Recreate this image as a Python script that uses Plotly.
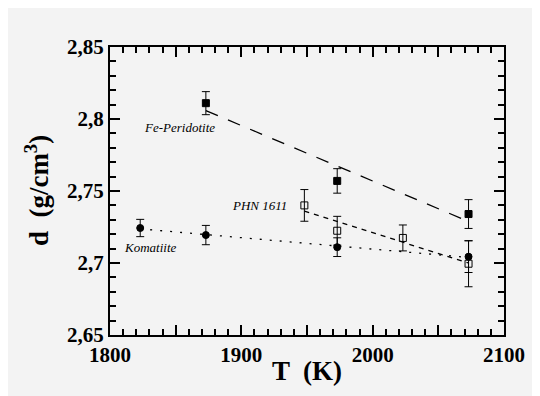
import numpy as np
import plotly.graph_objects as go

# ---- data ----
fe_T = [1873, 1973, 2073]
fe_d = [2.811, 2.757, 2.734]
fe_err = [0.008, 0.0085, 0.010]

phn_T = [1948, 1973, 2023, 2073]
phn_d = [2.740, 2.7224, 2.7174, 2.6995]
phn_err = [0.011, 0.010, 0.009, 0.016]

kom_T = [1823, 1873, 1973, 2073]
kom_d = [2.7243, 2.7194, 2.711, 2.7044]
kom_err = [0.006, 0.0067, 0.0065, 0.011]

x_range = [1800, 2100]
y_range = [2.65, 2.85]
x_title = "T  (K)"
y_title = "d  (g/cm<sup>3</sup>)"

FONT = "Liberation Serif"
BG = "#f3f3f3"

def fit_line(xs, ys):
    k, b = np.polyfit(xs, ys, 1)
    xx = np.array([min(xs), max(xs)], dtype=float)
    return xx, k * xx + b

fig = go.Figure()

def add_series(xs, ys, errs, symbol, dash):
    lx, ly = fit_line(xs, ys)
    fig.add_trace(go.Scatter(x=lx, y=ly, mode="lines",
                             line=dict(color="black", width=1.3, dash=dash),
                             showlegend=False, hoverinfo="skip"))
    fig.add_trace(go.Scatter(x=xs, y=ys, mode="markers",
                             marker=dict(symbol=symbol, size=7, color="black",
                                         line=dict(color="black", width=1)),
                             error_y=dict(type="data", array=errs, visible=True,
                                          color="black", thickness=1, width=4),
                             showlegend=False))

add_series(fe_T, fe_d, fe_err, "square", "13px,11px")
add_series(phn_T, phn_d, phn_err, "square-open", "5px,5px")
add_series(kom_T, kom_d, kom_err, "circle", "2px,8px")

ann_font = dict(family=FONT, size=13, color="black")
fig.add_annotation(x=1853, y=2.7938, text="<i>Fe-Peridotite</i>", showarrow=False, font=ann_font)
fig.add_annotation(x=1914, y=2.740, text="<i>PHN 1611</i>", showarrow=False, font=ann_font)
fig.add_annotation(x=1831, y=2.711, text="<i>Komatiite</i>", showarrow=False, font=ann_font)

# axis titles as annotations
title_font = dict(family=FONT, size=27, color="black")
fig.add_annotation(x=0.5, y=-0.125, xref="paper", yref="paper", yanchor="middle",
                   text="<b>" + x_title + "</b>", showarrow=False, font=title_font)
fig.add_annotation(x=-0.185, y=0.5, xref="paper", yref="paper", xanchor="center",
                   textangle=-90, text="<b>" + y_title + "</b>", showarrow=False, font=title_font)

fig.update_layout(
    width=540, height=396,
    margin=dict(l=102, r=44, t=39, b=69),
    paper_bgcolor=BG, plot_bgcolor=BG,
    separators=", ",
    xaxis=dict(range=x_range, tickmode="linear", tick0=1800, dtick=50, ticklabelstep=2,
               showline=True, linecolor="black", linewidth=2, mirror="ticks",
               ticks="inside", ticklen=10, tickwidth=2, tickcolor="black",
               minor=dict(dtick=10, ticks="inside", ticklen=6, tickwidth=2, tickcolor="black"),
               showgrid=False, zeroline=False,
               tickfont=dict(family=FONT, size=21, color="black", weight="bold")),
    yaxis=dict(range=y_range, tickmode="linear", tick0=2.65, dtick=0.05,
               showline=True, linecolor="black", linewidth=2, mirror="ticks",
               ticks="inside", ticklen=10, tickwidth=2, tickcolor="black",
               minor=dict(dtick=0.01, ticks="inside", ticklen=6, tickwidth=2, tickcolor="black"),
               showgrid=False, zeroline=False,
               tickfont=dict(family=FONT, size=21, color="black", weight="bold")),
)

fig.write_html("out.html")
